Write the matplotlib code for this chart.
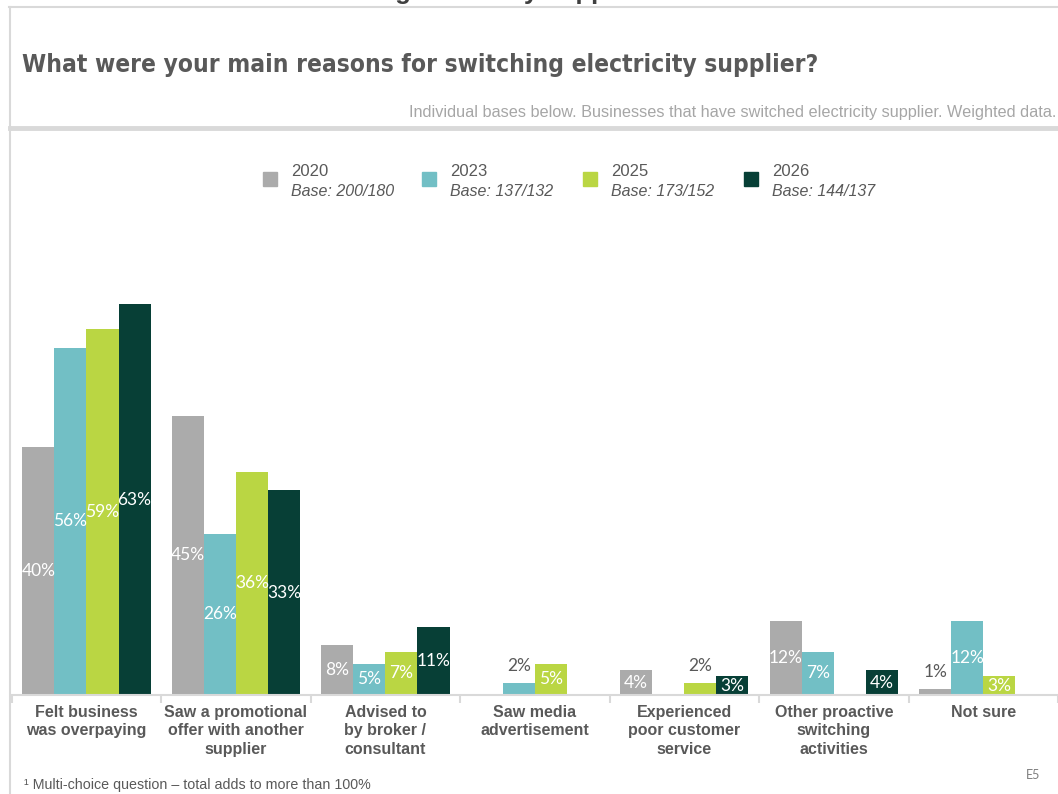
import numpy as np
import matplotlib.pyplot as plt
from matplotlib.lines import Line2D
from matplotlib.patches import Rectangle

# reasons for switching, % of businesses that switched (nan = not shown)
categories = ['Felt business\nwas overpaying',
              'Saw a promotional\noffer with another\nsupplier',
              'Advised to\nby broker /\nconsultant',
              'Saw media\nadvertisement',
              'Experienced\npoor customer\nservice',
              'Other proactive\nswitching\nactivities',
              'Not sure']
years = ['2020', '2023', '2025', '2026']
bases = ['Base: 200/180', 'Base: 137/132', 'Base: 173/152', 'Base: 144/137']
v2020 = [40, 45, 8, np.nan, 4, 12, 1]
v2023 = [56, 26, 5, 2, np.nan, 7, 12]
v2025 = [59, 36, 7, 5, 2, np.nan, 3]
v2026 = [63, 33, 11, np.nan, 3, 4, np.nan]
colors = ['#ABABAB', '#72BFC5', '#BAD643', '#073F36']

grey = '#595959'
light = '#D9D9D9'
W, H = 1058, 794

fig = plt.figure(figsize=(W / 100, H / 100), dpi=100)

# slide frame
def hline(y, x0, x1, lw):
    fig.add_artist(Line2D([x0 / W, x1 / W], [1 - y / H, 1 - y / H], color=light, lw=lw))

hline(7, 9, W, 1.5)
hline(128, 10, W, 3.5)
fig.add_artist(Line2D([9.5 / W, 9.5 / W], [1 - 7 / H, 0], color=light, lw=1.5))

# heading cut off at the top of the slide
fig.text(136 / W, 1 + 1.5 / H, 'Reasons for switching electricity supplier', ha='left', va='baseline',
         fontsize=18.5, fontweight='bold', color='#404040', family='Liberation Sans')

fig.text(22 / W, 1 - 65 / H, 'What were your main reasons for switching electricity supplier?',
         ha='left', va='center', fontsize=17.6, fontweight='bold', color=grey,
         family='DejaVu Sans', fontstretch='condensed')
fig.text(1056 / W, 1 - 113 / H,
         'Individual bases below. Businesses that have switched electricity supplier. Weighted data.',
         ha='right', va='center', fontsize=11.7, color='#A6A6A6',
         family=['Liberation Sans Narrow', 'Liberation Sans'])

# legend
leg_sq = [263, 422, 583, 744]
for i, (yr, b) in enumerate(zip(years, bases)):
    x0 = leg_sq[i]
    fig.add_artist(Rectangle((x0 / W, 1 - 186 / H), 14 / W, 14 / H, color=colors[i],
                             transform=fig.transFigure))
    fig.text((x0 + 28) / W, 1 - 171 / H, yr, ha='left', va='center', fontsize=12,
             color=grey, family='Liberation Sans')
    fig.text((x0 + 28) / W, 1 - 191 / H, b, ha='left', va='center', fontsize=11.5,
             color=grey, family='Liberation Sans', style='italic')

# bars
px_per_pct = 6.2
step = 150.9
left = 11.7
ax = fig.add_axes([left / W, 1 - 695 / H, 1 - left / W, 445 / H])
x = np.arange(len(categories))
w = 0.2146
series = [v2020, v2023, v2025, v2026]
for i, vals in enumerate(series):
    vals = np.array(vals, dtype=float)
    xs = x + (i - 1.5) * w
    m = ~np.isnan(vals)
    ax.bar(xs[m], vals[m], width=w, color=colors[i], linewidth=0)
    for xi, v in zip(xs[m], vals[m]):
        if v <= 2:
            ax.text(xi, v + 17 / px_per_pct, f'{v:.0f}%', ha='center', va='center',
                    fontsize=12.5, color=grey, family='Lato')
        else:
            ax.text(xi, v / 2, f'{v:.0f}%', ha='center', va='center',
                    fontsize=12.5, color='white', family='Lato')

ax.set_xlim(-0.5, -0.5 + (W - left) / step)
ax.set_ylim(0, 445 / px_per_pct)
for s in ['top', 'right', 'left']:
    ax.spines[s].set_visible(False)
ax.spines['bottom'].set_color(light)
ax.spines['bottom'].set_linewidth(1.5)
ax.set_yticks([])
ax.set_xticks(x)
ax.set_xticklabels(categories, fontsize=11.5, fontweight='bold', color=grey,
                   family='Liberation Sans', linespacing=1.3)
ax.tick_params(axis='x', which='major', length=0, pad=7)
ax.set_xticks(np.arange(-0.5, len(categories)), minor=True)
ax.tick_params(axis='x', which='minor', length=6, width=1.5, color=light, direction='out')
ax.patch.set_alpha(0)

fig.text(24 / W, 1 - 785 / H, '¹ Multi-choice question – total adds to more than 100%',
         ha='left', va='center', fontsize=10.3, color=grey, family='Liberation Sans')
fig.text(1040 / W, 1 - 775 / H, 'E5', ha='right', va='center', fontsize=9,
         color='#7F7F7F', family='Lato')

fig.savefig('out.png', dpi=100)
